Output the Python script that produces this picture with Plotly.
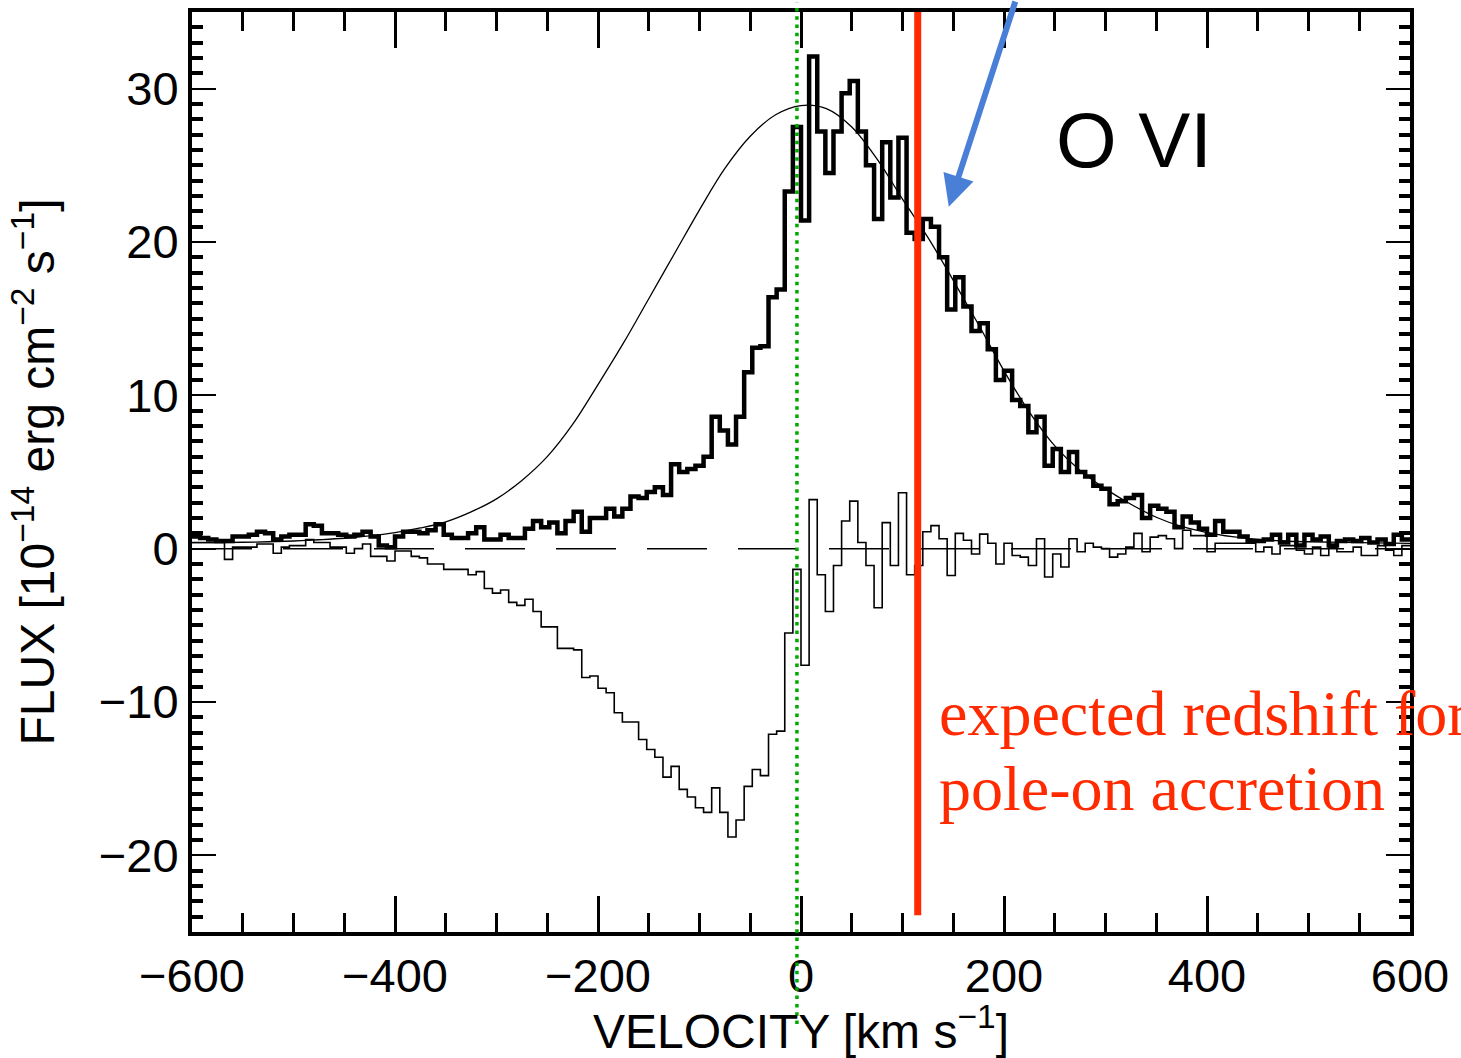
import numpy as np
import plotly.graph_objects as go

# Spectral binning of the O VI profile (km/s)
BIN_LO = -600
BIN_W = 8

# Observed O VI flux per velocity bin (1e-14 erg cm^-2 s^-1)
obs_flux = [
    0.8, 0.7, 0.6, 0.5, 0.5, 0.8, 0.8, 0.9, 1.1, 1.0,
    0.6, 0.8, 0.9, 0.9, 1.6, 1.5, 1.0, 1.0, 0.9, 0.8,
    0.9, 1.1, 0.8, 0.2, 0.1, 0.8, 1.1, 1.1, 1.0, 1.2,
    1.6, 0.9, 0.7, 0.7, 1.0, 1.4, 0.6, 0.6, 0.9, 0.7,
    0.7, 1.3, 1.8, 1.4, 1.7, 1.0, 1.8, 2.4, 1.1, 2.0,
    2.0, 2.6, 2.1, 2.6, 3.4, 3.3, 3.7, 4.0, 3.5, 5.5,
    5.0, 5.2, 5.4, 6.0, 8.6, 7.7, 6.8, 8.6, 11.5, 13.1,
    13.2, 16.4, 16.9, 23.3, 27.5, 21.4, 32.1, 27.2, 24.5, 27.2,
    29.7, 30.5, 27.2, 25.0, 21.5, 26.5, 22.9, 26.8, 20.6, 20.2,
    21.5, 21.0, 19.0, 15.6, 17.7, 15.8, 14.2, 14.7, 13.0, 11.0,
    11.6, 9.7, 9.3, 7.6, 8.6, 5.4, 6.5, 5.0, 6.3, 5.0,
    4.7, 4.1, 3.9, 2.9, 3.1, 3.3, 3.5, 2.0, 2.8, 2.6,
    2.4, 1.4, 2.1, 1.7, 1.3, 0.9, 1.8, 1.1, 1.1, 0.8,
    0.5, 0.5, 0.6, 0.9, 0.4, 0.9, 0.2, 0.9, 0.6, 0.8,
    0.2, 0.5, 0.6, 0.5, 0.7, 0.4, 0.6, 0.3, 0.9, 0.6,
]

# Residual (observed minus fitted profile) per velocity bin
resid_flux = [
    0.4, 0.4, 0.4, 0.4, -0.7, 0.1, 0.1, 0.1, 0.3, 0.3,
    -0.3, 0.1, 0.2, 0.2, 0.6, 0.4, 0.4, 0.1, 0.1, -0.3,
    0.0, 0.3, -0.5, -0.5, -0.8, -0.15, -0.15, -0.5, -0.6, -1.0,
    -1.0, -1.35, -1.35, -1.35, -1.7, -1.5, -2.6, -2.9, -2.7, -3.5,
    -3.7, -3.3, -4.1, -5.1, -5.1, -6.5, -6.5, -6.6, -8.4, -8.3,
    -9.1, -9.4, -10.7, -11.3, -11.3, -12.45, -13.1, -13.6, -14.9, -14.2,
    -15.7, -16.2, -16.9, -17.2, -15.6, -17.2, -18.8, -17.7, -15.5, -14.4,
    -14.8, -12.1, -11.9, -5.5, -1.35, -7.6, 3.2, -1.7, -4.1, -1.1,
    1.8, 3.1, 0.4, -1.1, -3.85, 1.7, -1.1, 3.65, -1.7, -1.1,
    1.1, 1.5, 0.65, -1.75, 1.0, 0.55, -0.35, 0.95, 0.35, -1.0,
    0.35, -0.45, -0.55, -1.1, 0.65, -1.85, -0.35, -1.2, 0.65, -0.2,
    0.35, 0.1, 0.0, -0.55, -0.35, 0.1, 1.0, -0.2, 0.75, 0.85,
    0.65, 0.0, 1.2, 0.85, 0.85, -0.2, 0.35, 0.35, 0.35, 0.35,
    0.35, -0.2, 0.1, -0.35, 0.2, 0.2, -0.1, -0.35, 0.1, -0.45,
    0.1, -0.2, -0.2, 0.1, -0.45, -0.45, 0.2, -0.1, -0.45, 0.2,
]

# Fitted emission profile, sampled along velocity
fit_vel = [-600, -575, -550, -525, -500, -475, -450, -425, -400, -375,
           -350, -325, -300, -275, -250, -225, -200, -175, -150, -125,
           -100, -75, -50, -25, 0, 25, 50, 75, 100, 125,
           150, 175, 200, 225, 250, 275, 300, 325, 350, 375,
           400, 425, 450, 475, 500, 550, 600]
fit_flux = [0.4, 0.4, 0.42, 0.45, 0.5, 0.58, 0.68, 0.83, 1.05, 1.35,
            1.75, 2.4, 3.25, 4.45, 6.0, 8.1, 10.7, 13.4, 16.3, 19.2,
            22.1, 24.8, 26.9, 28.3, 28.9, 28.7, 27.5, 25.4, 22.8, 20.3,
            17.5, 14.6, 11.6, 8.9, 6.7, 5.1, 3.9, 2.9, 2.05, 1.45,
            1.05, 0.78, 0.6, 0.5, 0.45, 0.4, 0.35]

# Reference velocities (km/s)
rest_vel = -4
pole_on_vel = 115

n_bins = len(obs_flux)
edges = BIN_LO + BIN_W * np.arange(n_bins + 1)


def step_y(vals):
    return list(vals) + [vals[-1]]


FONT = "Liberation Sans"
W, H = 1461, 1058
L, R, T, B = 192, 49, 12, 126

fig = go.Figure()

fig.add_trace(go.Scatter(
    x=[-600, 600], y=[0, 0], mode="lines",
    line=dict(color="black", width=1.5, dash="60px,31px"),
    hoverinfo="skip", showlegend=False))

fig.add_trace(go.Scatter(
    x=edges, y=step_y(resid_flux), mode="lines", line_shape="hv",
    line=dict(color="black", width=1.6), showlegend=False))

fig.add_trace(go.Scatter(
    x=fit_vel, y=fit_flux, mode="lines", line_shape="spline",
    line=dict(color="black", width=1.3, smoothing=1.0), showlegend=False))

fig.add_trace(go.Scatter(
    x=edges, y=step_y(obs_flux), mode="lines", line_shape="hv",
    line=dict(color="black", width=4.5), showlegend=False))

# carrier for the mirrored top/right axes
fig.add_trace(go.Scatter(
    x=[0], y=[0], xaxis="x2", yaxis="y2", mode="markers",
    marker=dict(opacity=0), hoverinfo="skip", showlegend=False))

xcommon = dict(range=[-600, 600], showgrid=False, zeroline=False,
               showline=True, linewidth=4, linecolor="black",
               ticks="inside", ticklen=36, tickwidth=3, tickcolor="black",
               tick0=0, dtick=200,
               minor=dict(ticks="inside", ticklen=19, tickwidth=3,
                          tickcolor="black", dtick=50, tick0=0, showgrid=False))
ycommon = dict(range=[-25, 35], showgrid=False, zeroline=False,
               showline=True, linewidth=4, linecolor="black",
               ticks="inside", ticklen=24, tickwidth=2, tickcolor="black",
               tick0=0, dtick=10,
               minor=dict(ticks="inside", ticklen=11, tickwidth=4,
                          tickcolor="black", dtick=1, tick0=0, showgrid=False))

fig.update_layout(
    width=W, height=H,
    margin=dict(l=L, r=R, t=T, b=B, pad=0),
    paper_bgcolor="white", plot_bgcolor="white",
    font=dict(family=FONT, color="black"),
    xaxis=dict(**xcommon, tickfont=dict(size=47, family=FONT),
               title=dict(text="VELOCITY [km s<sup>−1</sup>]",
                          font=dict(size=48, family=FONT), standoff=10)),
    yaxis=dict(**ycommon, tickfont=dict(size=47, family=FONT),
               title=dict(text="FLUX [10<sup>−14</sup> erg cm<sup>−2</sup> s<sup>−1</sup>]",
                          font=dict(size=48, family=FONT), standoff=30)),
    xaxis2=dict(**xcommon, overlaying="x", side="top", anchor="y",
                showticklabels=False),
    yaxis2=dict(**ycommon, overlaying="y", side="right", anchor="x",
                showticklabels=False),
)

# expected redshift marker
fig.add_shape(type="line", xref="x", yref="y",
              x0=pole_on_vel, x1=pole_on_vel, y0=-23.9, y1=35,
              line=dict(color="#ff2a00", width=7), layer="above")

# rest velocity marker
fig.add_shape(type="line", xref="x", yref="paper",
              x0=rest_vel, x1=rest_vel, y0=-0.1, y1=1.01,
              line=dict(color="#00a800", width=3.5, dash="3.5px,4.8px"),
              layer="above")

fig.add_annotation(x=0.773, y=0.861, xref="paper", yref="paper",
                   text="O VI", showarrow=False,
                   font=dict(size=78, family=FONT, color="black"),
                   xanchor="center", yanchor="middle")

fig.add_annotation(x=(938 - L) / 1220, y=(932 - 713) / 920, xref="paper", yref="paper",
                   text="expected redshift for", showarrow=False,
                   font=dict(size=64, family="Liberation Serif", color="#ff2a00"),
                   xanchor="left", yanchor="middle")
fig.add_annotation(x=(938 - L) / 1220, y=(932 - 788) / 920, xref="paper", yref="paper",
                   text="pole-on accretion", showarrow=False,
                   font=dict(size=64, family="Liberation Serif", color="#ff2a00"),
                   xanchor="left", yanchor="middle")

# pointer arrow
fig.add_annotation(x=145.6, y=22.3, xref="x", yref="y", text="",
                   showarrow=True, ax=67, ay=-214, axref="pixel", ayref="pixel",
                   arrowhead=2, arrowsize=1.05, arrowwidth=6,
                   arrowcolor="#4a7fd8", standoff=0)

fig.write_html("out.html")
